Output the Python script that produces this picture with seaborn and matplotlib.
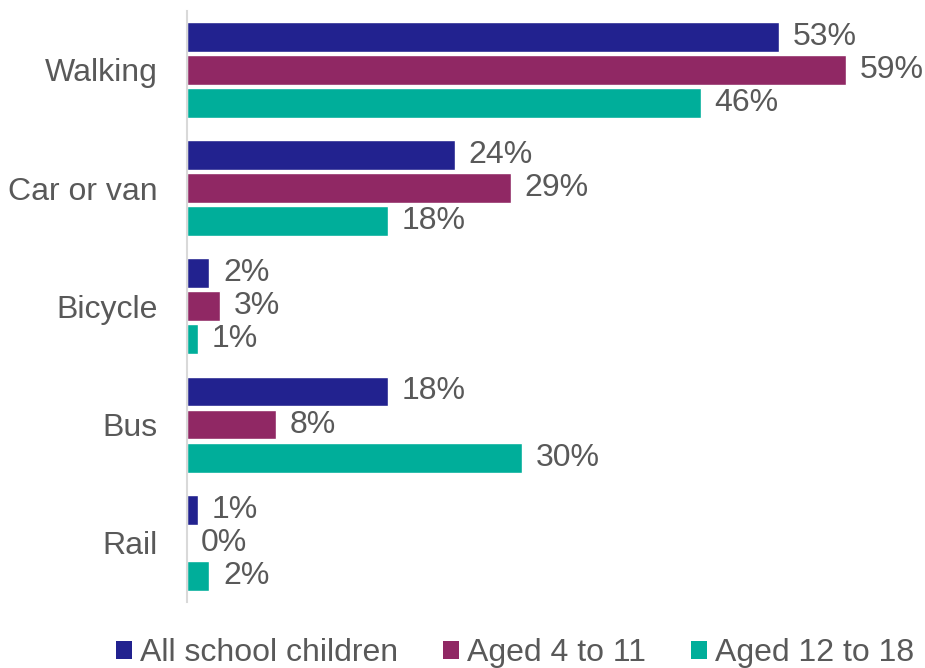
import matplotlib
matplotlib.use("Agg")
import matplotlib.pyplot as plt
from matplotlib.patches import Patch
import seaborn as sns
import pandas as pd

modes = ["Walking", "Car or van", "Bicycle", "Bus", "Rail"]
groups = ["All school children", "Aged 4 to 11", "Aged 12 to 18"]
all_children = [53, 24, 2, 18, 1]
aged_4_11 = [59, 29, 3, 8, 0]
aged_12_18 = [46, 18, 1, 30, 2]
colors = ["#22228F", "#902864", "#00AE9A"]

rows = []
for g, vals in zip(groups, [all_children, aged_4_11, aged_12_18]):
    for m, v in zip(modes, vals):
        rows.append({"mode": m, "group": g, "pct": v})
df = pd.DataFrame(rows)

sns.set_theme(style="white")
plt.rcParams["font.family"] = ["Liberation Sans", "DejaVu Sans"]
text_color = "#595959"
fs = 23

fig = plt.figure(figsize=(9.25, 6.68), dpi=100)
ax = fig.add_axes([0.202, 0.099, 0.768, 0.885])

sns.barplot(data=df, y="mode", x="pct", hue="group", order=modes,
            hue_order=groups, palette=colors, orient="h", width=0.84,
            gap=0.1, saturation=1, legend=False, ax=ax)

for cont in ax.containers:
    ax.bar_label(cont, labels=[f"{int(round(b.get_width()))}%" for b in cont],
                 padding=10, fontsize=fs, color=text_color)

ax.set_xlim(0, 63.6)
ax.set_ylim(4.5, -0.5)
ax.set_xlabel("")
ax.set_ylabel("")
ax.set_xticks([])
ax.tick_params(axis="y", length=0, pad=21, labelsize=fs, labelcolor=text_color)
for s in ["top", "right", "bottom"]:
    ax.spines[s].set_visible(False)
ax.spines["left"].set_color("#D9D9D9")
ax.spines["left"].set_linewidth(1.5)

handles = [Patch(facecolor=c, edgecolor="none", label=g) for c, g in zip(colors, groups)]
fig.legend(handles=handles, loc="center", bbox_to_anchor=(0.557, 0.022),
           ncol=3, frameon=False, fontsize=fs, labelcolor=text_color,
           handlelength=0.5, handleheight=0.5, handletextpad=0.25,
           columnspacing=1.4)

fig.savefig("out.png", dpi=100)
